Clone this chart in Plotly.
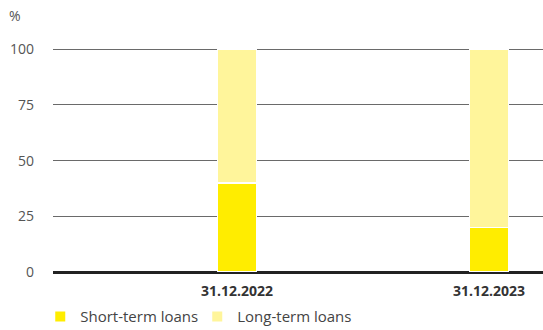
import plotly.graph_objects as go

# Loan structure by maturity, share of total (%)
dates = ["31.12.2022", "31.12.2023"]
short_term = [40, 20]
long_term = [60, 80]
y_ticks = [0, 25, 50, 75, 100]

FONT = "Open Sans"
SHORT_COLOR = "#FFED00"
LONG_COLOR = "#FFF59B"

fig = go.Figure()
fig.add_trace(go.Bar(
    x=[0, 1], y=short_term, name="Short-term loans",
    marker=dict(color=SHORT_COLOR, line=dict(color="white", width=1.5)),
    width=0.155, hoverinfo="skip",
))
fig.add_trace(go.Bar(
    x=[0, 1], y=long_term, name="Long-term loans",
    marker=dict(color=LONG_COLOR, line=dict(color="white", width=1.5)),
    width=0.155, hoverinfo="skip",
))

fig.update_layout(
    barmode="stack",
    width=543, height=330,
    margin=dict(l=53, r=0, t=47, b=58, autoexpand=False),
    paper_bgcolor="white", plot_bgcolor="white",
    font=dict(family=FONT, size=14, color="#555555"),
    showlegend=True,
    legend=dict(
        orientation="h", x=-0.026, xanchor="left", y=-0.125, yanchor="top",
        font=dict(family=FONT, size=15, color="#444444"),
        itemsizing="constant", traceorder="normal",
        itemwidth=30, entrywidth=112,
    ),
    xaxis=dict(
        range=[-0.73, 1.214],
        tickmode="array", tickvals=[0, 1], ticktext=dates,
        tickfont=dict(family=FONT, size=14, color="#333333", weight="bold"),
        showgrid=False, zeroline=False, showline=False, ticks="",
        ticklabelstandoff=9,
    ),
    yaxis=dict(
        range=[0, 101],
        tickmode="array", tickvals=y_ticks,
        ticktext=[str(v) for v in y_ticks],
        tickfont=dict(family=FONT, size=14, color="#555555"),
        showgrid=True, gridcolor="#6a6a6a", gridwidth=1,
        zeroline=True, zerolinecolor="#222222", zerolinewidth=2.5,
        showline=False, ticks="", ticklabelstandoff=18,
    ),
    annotations=[dict(
        text="%", xref="paper", yref="paper", x=-0.077, y=1.14,
        xanchor="center", yanchor="middle", showarrow=False,
        font=dict(family=FONT, size=14, color="#555555"),
    )],
)

fig.write_html("out.html")
